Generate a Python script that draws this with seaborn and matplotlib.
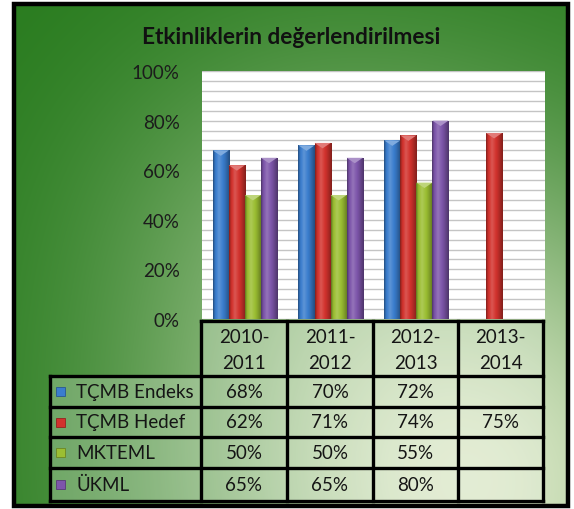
import numpy as np
import pandas as pd
import matplotlib
matplotlib.use("Agg")
import matplotlib.pyplot as plt
import seaborn as sns
from matplotlib.patches import Rectangle, Polygon
from matplotlib.colors import to_rgb

# ---------------- data ----------------
categories = ["2010-2011", "2011-2012", "2012-2013", "2013-2014"]
series_names = ["TÇMB Endeks", "TÇMB Hedef", "MKTEML", "ÜKML"]
tcmb_endeks = [68, 70, 72, np.nan]
tcmb_hedef = [62, 71, 74, 75]
mkteml = [50, 50, 55, np.nan]
ukml = [65, 65, 80, np.nan]
yticks = [0, 20, 40, 60, 80, 100]
title = "Etkinliklerin değerlendirilmesi"

series_values = [tcmb_endeks, tcmb_hedef, mkteml, ukml]
colors = ["#3a7dcd", "#d2322d", "#9bbe32", "#7d55aa"]

rows = []
for name, vals in zip(series_names, series_values):
    for cat, v in zip(categories, vals):
        rows.append({"Dönem": cat, "Seri": name, "Değer": v})
df = pd.DataFrame(rows)

W, H = 574, 510
sns.set_theme(style="white")
plt.rcParams["font.family"] = ["Lato", "DejaVu Sans"]

fig = plt.figure(figsize=(W / 100, H / 100), dpi=100)
fig.patch.set_facecolor("white")

# ---------------- background ----------------
bg = fig.add_axes([0, 0, 1, 1], zorder=0)
bg.axis("off")
yy, xx = np.mgrid[5:507, 14:568]
d2 = (xx - 470.0) ** 2 + (yy - 490.0) ** 2
t = 0.95 * np.exp(-d2 / 310.0 ** 2)
# soft glow around the upper centre
t += 0.18 * np.exp(-((xx - 290.0) ** 2 / 220.0 ** 2 + (yy - 200.0) ** 2 / 200.0 ** 2))
t = np.clip(t, 0, 1)
dark = np.array([38, 122, 28]) / 255
light = np.array([226, 236, 206]) / 255
img = dark[None, None, :] * (1 - t[..., None]) + light[None, None, :] * t[..., None]
bg.imshow(img, extent=(14, 568, 507, 5), aspect="auto", interpolation="bilinear")
bg.add_patch(Rectangle((14, 5), 554, 502, fill=False, edgecolor="black", lw=3.2))
bg.set_xlim(0, W)
bg.set_ylim(H, 0)

bg.text(291, 38, title, ha="center", va="center", fontsize=16.3,
        fontweight="bold", color="#111111")

# ---------------- bar chart ----------------
ax = fig.add_axes([202 / W, (H - 320) / H, (545 - 202) / W, (320 - 72) / H], zorder=2)
ax.set_facecolor("white")
sns.barplot(data=df, x="Dönem", y="Değer", hue="Seri", hue_order=series_names,
            order=categories, palette=colors, width=0.75, legend=False,
            errorbar=None, saturation=1, ax=ax, edgecolor="none")

ax.set_xlim(-0.5, 3.5)
ax.set_ylim(0, 100)
ax.set_yticks(yticks)
ax.set_yticklabels([f"{v}%" for v in yticks])
ax.set_yticks(np.arange(0, 101, 4), minor=True)
ax.grid(which="both", axis="y", color="#c4c4c4", lw=1)
ax.set_axisbelow(True)
ax.tick_params(axis="y", which="both", length=0)
ax.tick_params(axis="y", which="major", labelsize=13.5, pad=16, labelcolor="#1c1c1c")
ax.set_xticks([])
ax.set_xlabel("")
ax.set_ylabel("")
for s in ax.spines.values():
    s.set_visible(False)


def shade(c, f):
    c = np.array(c)
    if f >= 1:
        return c + (1 - c) * (f - 1)
    return c * f


prof = np.linspace(0, 1, 60)
factor = np.interp(prof, [0, 0.12, 0.35, 0.7, 1], [0.62, 0.95, 1.18, 0.92, 0.62])
for p in list(ax.patches):
    h = p.get_height()
    if not np.isfinite(h) or h <= 0:
        continue
    x0, w = p.get_x(), p.get_width()
    base = to_rgb(p.get_facecolor())
    grad = np.array([[shade(base, f) for f in factor]])
    im = ax.imshow(grad, extent=(x0, x0 + w, 0, h), aspect="auto",
                   interpolation="bilinear", zorder=p.get_zorder() + 0.1)
    im.set_clip_path(p)
    tri = Polygon([(x0, h), (x0 + w, h), (x0 + w / 2, h - 2.2)], closed=True,
                  facecolor=shade(base, 1.35), edgecolor="none",
                  zorder=p.get_zorder() + 0.2)
    ax.add_patch(tri)
ax.set_xlim(-0.5, 3.5)
ax.set_ylim(0, 100)

# ---------------- data table ----------------
tb = fig.add_axes([0, 0, 1, 1], zorder=3)
tb.set_facecolor("none")
tb.axis("off")
tb.set_xlim(0, W)
tb.set_ylim(H, 0)

col_edges = [201, 287, 373, 458, 543]
leg_left = 50
hdr_top, hdr_bot = 322, 377
row_edges = [377, 408, 438, 469, 502]
cell_fill = (1, 1, 1, 0.24)
lw = 2.4
fs = 13.5
tc = "#151515"

# header cells
for i in range(4):
    tb.add_patch(Rectangle((col_edges[i], hdr_top), col_edges[i + 1] - col_edges[i],
                           hdr_bot - hdr_top, facecolor=cell_fill, edgecolor="none"))
    cx = (col_edges[i] + col_edges[i + 1]) / 2
    a, b = categories[i].split("-")
    tb.text(cx, 338, a + "-", ha="center", va="center", fontsize=fs, color=tc)
    tb.text(cx, 364, b, ha="center", va="center", fontsize=fs, color=tc)

# body cells
for r in range(4):
    y0, y1 = row_edges[r], row_edges[r + 1]
    cy = (y0 + y1) / 2
    tb.add_patch(Rectangle((leg_left, y0), col_edges[0] - leg_left, y1 - y0,
                           facecolor=cell_fill, edgecolor="none"))
    tb.add_patch(Rectangle((56, cy - 4.5), 9, 9, facecolor=colors[r],
                           edgecolor=shade(to_rgb(colors[r]), 0.7), lw=0.6))
    tb.text(76, cy, series_names[r], ha="left", va="center", fontsize=fs,
            color=tc)
    for i in range(4):
        tb.add_patch(Rectangle((col_edges[i], y0), col_edges[i + 1] - col_edges[i],
                               y1 - y0, facecolor=cell_fill, edgecolor="none"))
        v = series_values[r][i]
        if np.isfinite(v):
            cx = (col_edges[i] + col_edges[i + 1]) / 2
            tb.text(cx, cy, f"{v:.0f}%", ha="center", va="center", fontsize=fs,
                    color=tc)

# grid lines of the table
k = dict(color="black", lw=lw, solid_capstyle="projecting")
tb.plot([col_edges[0], col_edges[-1]], [hdr_top, hdr_top], **k)
for x in col_edges:
    tb.plot([x, x], [hdr_top, row_edges[-1]], **k)
tb.plot([leg_left, leg_left], [row_edges[0], row_edges[-1]], **k)
for y in row_edges:
    tb.plot([leg_left, col_edges[-1]], [y, y], **k)

fig.savefig("out.png", dpi=100)
